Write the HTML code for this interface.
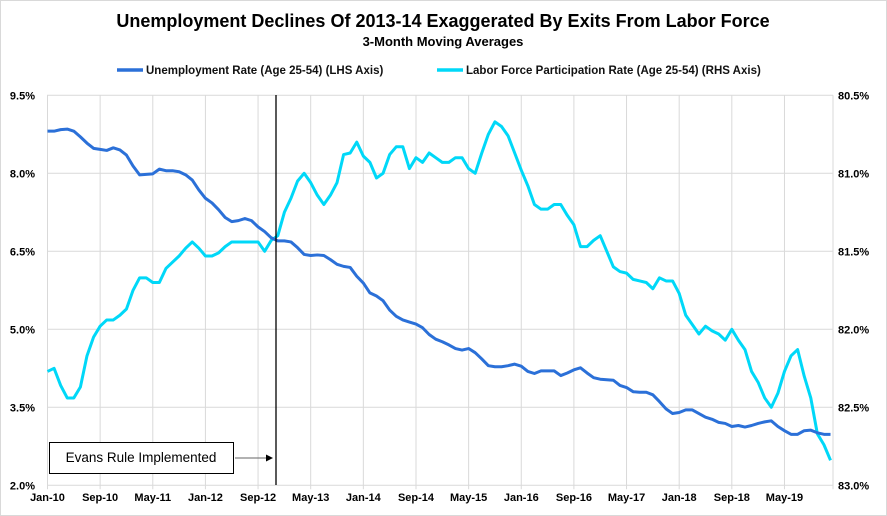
<!DOCTYPE html>
<html><head><meta charset="utf-8"><style>
body{margin:0;background:#fff;}
svg{display:block;font-family:"Liberation Sans",Arial,sans-serif;}
</style></head><body>
<svg id="chart" width="887" height="516" viewBox="0 0 887 516">
<rect x="0.5" y="0.5" width="886" height="515" fill="#fff" stroke="#d9d9d9"/>
<text x="443" y="27" text-anchor="middle" font-size="18" font-weight="bold">Unemployment Declines Of 2013-14 Exaggerated By Exits From Labor Force</text>
<text x="443" y="46" text-anchor="middle" font-size="13" font-weight="bold">3-Month Moving Averages</text>
<g>
<g><line x1="117" y1="70" x2="143" y2="70" stroke="#2b70d8" stroke-width="3.5"/><text x="146" y="74" font-size="11.5" font-weight="bold" fill="#111">Unemployment Rate (Age 25-54) (LHS Axis)</text></g>
<g><line x1="437" y1="70" x2="463" y2="70" stroke="#00d8f8" stroke-width="3.5"/><text x="466" y="74" font-size="11.5" font-weight="bold" fill="#111">Labor Force Participation Rate (Age 25-54) (RHS Axis)</text></g>
</g>
<g id="grid"></g>
<g id="axes"></g>
<g id="series"></g>
<line x1="276" y1="95" x2="276" y2="485" stroke="#000" stroke-width="1.3"/>
<g>
<rect x="49.5" y="442.5" width="184" height="31" fill="#fff" stroke="#000" stroke-width="1"/>
<text x="141" y="462" text-anchor="middle" font-size="13.5" fill="#000">Evans Rule Implemented</text>
<line x1="235" y1="458" x2="268" y2="458" stroke="#666" stroke-width="1"/>
<polygon points="273,458 266,454.5 266,461.5" fill="#000"/>
</g>
</svg>
<script>
const categories=["Jan-10","Sep-10","May-11","Jan-12","Sep-12","May-13","Jan-14","Sep-14","May-15","Jan-16","Sep-16","May-17","Jan-18","Sep-18","May-19"];
const leftTicks=[2.0,3.5,5.0,6.5,8.0,9.5];
const rightTicks=[80.5,81.0,81.5,82.0,82.5,83.0];
const unemployment=[8.81,8.81,8.84,8.85,8.81,8.70,8.58,8.48,8.46,8.44,8.49,8.45,8.35,8.14,7.97,7.98,7.99,8.08,8.05,8.05,8.03,7.97,7.87,7.68,7.52,7.43,7.30,7.15,7.07,7.09,7.13,7.09,6.97,6.88,6.76,6.70,6.70,6.68,6.57,6.44,6.42,6.43,6.42,6.34,6.25,6.21,6.19,6.02,5.89,5.70,5.64,5.55,5.37,5.25,5.18,5.14,5.10,5.03,4.90,4.81,4.76,4.70,4.63,4.60,4.63,4.55,4.43,4.30,4.28,4.28,4.30,4.33,4.29,4.19,4.15,4.20,4.20,4.20,4.11,4.16,4.22,4.26,4.16,4.07,4.04,4.03,4.02,3.92,3.88,3.80,3.79,3.79,3.74,3.61,3.47,3.38,3.40,3.45,3.45,3.38,3.31,3.27,3.21,3.19,3.13,3.15,3.12,3.15,3.19,3.22,3.24,3.13,3.05,2.98,2.98,3.05,3.06,3.01,2.98,2.98];
const participation=[82.27,82.25,82.36,82.44,82.44,82.37,82.17,82.05,81.98,81.94,81.94,81.91,81.87,81.75,81.67,81.67,81.70,81.70,81.61,81.57,81.53,81.48,81.44,81.48,81.53,81.53,81.51,81.47,81.44,81.44,81.44,81.44,81.44,81.50,81.43,81.40,81.25,81.16,81.05,81.00,81.06,81.14,81.20,81.14,81.06,80.88,80.87,80.80,80.89,80.93,81.03,81.00,80.88,80.83,80.83,80.97,80.90,80.93,80.87,80.90,80.93,80.93,80.90,80.90,80.97,81.00,80.87,80.75,80.67,80.70,80.76,80.87,80.98,81.08,81.20,81.23,81.23,81.20,81.20,81.27,81.33,81.47,81.47,81.43,81.40,81.50,81.60,81.63,81.64,81.68,81.69,81.70,81.74,81.67,81.69,81.69,81.77,81.91,81.97,82.03,81.98,82.01,82.03,82.07,82.00,82.07,82.13,82.27,82.34,82.44,82.50,82.41,82.27,82.17,82.13,82.30,82.44,82.67,82.74,82.84];
const NS="http://www.w3.org/2000/svg";
const X0=47.5,STEP=6.58,PL=47,PR=833,PT=95.3,PB=485.3;
const xOf=i=>X0+i*STEP;
const yL=v=>PB-(v-2.0)/(9.5-2.0)*(PB-PT);
const yR=v=>PT+(v-80.5)/(83.0-80.5)*(PB-PT);
function mk(tag,attrs,parent){const e=document.createElementNS(NS,tag);for(const k in attrs)e.setAttribute(k,attrs[k]);parent.appendChild(e);return e;}
const grid=document.getElementById('grid'),axes=document.getElementById('axes'),series=document.getElementById('series');
leftTicks.forEach((t,i)=>{
  const y=yL(t);
  const g=mk('line',{x1:PL,y1:y,x2:PR,y2:y,stroke:'#d9d9d9','stroke-width':1},grid);
  
  
  const tl=mk('text',{x:35,y:y+4,'text-anchor':'end','font-size':11,'font-weight':'bold'},axes);
  tl.textContent=t.toFixed(1)+'%';
  
  
});
rightTicks.forEach(t=>{
  const y=yR(t);
  const tl=mk('text',{x:838,y:y+4,'font-size':11,'font-weight':'bold'},axes);
  tl.textContent=t.toFixed(1)+'%';
  
  
});
categories.forEach((c,i)=>{
  const x=xOf(i*8);
  const g=mk('line',{x1:x,y1:PT,x2:x,y2:PB+4,stroke:'#d9d9d9','stroke-width':1},grid);
  
  
  const tl=mk('text',{x:x,y:501,'text-anchor':'middle','font-size':11,'font-weight':'bold'},axes);
  tl.textContent=c;
  
  
});
const edge=mk('line',{x1:PR,y1:PT,x2:PR,y2:PB+4,stroke:'#d9d9d9','stroke-width':1},grid);


const p2=mk('polyline',{points:participation.map((v,i)=>xOf(i)+','+yR(v)).join(' '),fill:'none',stroke:'#00d8f8','stroke-width':3,'stroke-linejoin':'round'},series);


const p1=mk('polyline',{points:unemployment.map((v,i)=>xOf(i)+','+yL(v)).join(' '),fill:'none',stroke:'#2b70d8','stroke-width':3,'stroke-linejoin':'round'},series);


</script>
</body></html>
